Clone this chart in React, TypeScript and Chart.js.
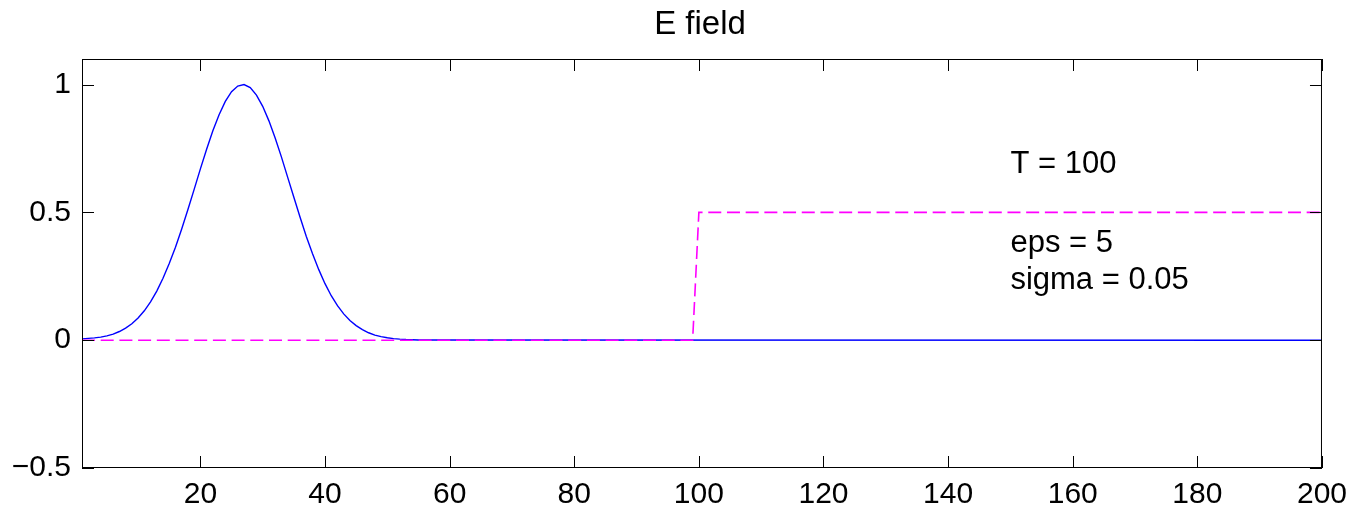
import React, { useEffect, useRef } from "react";
import { Chart, registerables } from "chart.js";

Chart.register(...registerables);

// ---- data ----
const titleText = "E field";
const xTicks = [20, 40, 60, 80, 100, 120, 140, 160, 180, 200];
const yTicks = [-0.5, 0, 0.5, 1];
const xMin = 1;
const xMax = 200;
const yMin = -0.5;
const yMax = 1.1;

const pulseX = [
  1, 2, 3, 4, 5, 6, 7, 8, 9, 10, 11, 12, 13, 14, 15, 16, 17, 18, 19, 20,
  21, 22, 23, 24, 25, 26, 27, 28, 29, 30, 31, 32, 33, 34, 35, 36, 37, 38, 39, 40,
  41, 42, 43, 44, 45, 46, 47, 48, 49, 50, 51, 52, 53, 54, 55, 56, 200,
];
const pulseY = [
  0.005, 0.007, 0.009, 0.012, 0.017, 0.024, 0.034, 0.047, 0.064, 0.087,
  0.115, 0.15, 0.192, 0.242, 0.3, 0.364, 0.435, 0.511, 0.59, 0.67,
  0.747, 0.819, 0.882, 0.934, 0.972, 0.994, 1.0, 0.988, 0.959, 0.915,
  0.858, 0.791, 0.717, 0.638, 0.559, 0.481, 0.406, 0.338, 0.276, 0.221,
  0.174, 0.135, 0.103, 0.077, 0.057, 0.041, 0.029, 0.02, 0.014, 0.0095,
  0.0063, 0.0041, 0.0026, 0.0017, 0.001, 0.0006, 0,
];

const stepX = [1, 99, 100, 200];
const stepY = [0, 0, 0.5, 0.5];

const noteTexts = ["T = 100", "eps = 5", "sigma = 0.05"];
const noteX = [150, 150, 150];
const noteY = [0.697, 0.387, 0.244];

const FONT = "'Liberation Sans', Arial, Helvetica, sans-serif";

export default function App() {
  const ref = useRef<HTMLCanvasElement | null>(null);

  useEffect(() => {
    document.body.style.margin = "0";
    const canvas = ref.current;
    if (!canvas) return;

    const framePlugin = {
      id: "matlabFrame",
      afterDraw(chart: any) {
        const ctx = chart.ctx;
        const ca = chart.chartArea;
        const xs = chart.scales.x;
        const ys = chart.scales.y;
        ctx.save();
        ctx.strokeStyle = "#000";
        ctx.lineWidth = 1;
        ctx.strokeRect(ca.left + 0.5, ca.top + 0.5, ca.right - ca.left - 1, ca.bottom - ca.top - 1);
        const tl = 12;
        ctx.beginPath();
        xTicks.forEach((v) => {
          const px = Math.round(xs.getPixelForValue(v)) + 0.5;
          ctx.moveTo(px, ca.bottom);
          ctx.lineTo(px, ca.bottom - tl);
          ctx.moveTo(px, ca.top);
          ctx.lineTo(px, ca.top + tl);
        });
        yTicks.forEach((v) => {
          const py = Math.round(ys.getPixelForValue(v)) + 0.5;
          ctx.moveTo(ca.left, py);
          ctx.lineTo(ca.left + tl, py);
          ctx.moveTo(ca.right, py);
          ctx.lineTo(ca.right - tl, py);
        });
        ctx.stroke();

        // title
        ctx.fillStyle = "#000";
        ctx.font = `33px ${FONT}`;
        ctx.textAlign = "center";
        ctx.textBaseline = "alphabetic";
        ctx.fillText(titleText, (ca.left + ca.right) / 2 - 2, 34);

        // annotations
        ctx.textAlign = "left";
        noteTexts.forEach((t, i) => {
          const size = 31;
          ctx.font = `${size}px ${FONT}`;
          const px = xs.getPixelForValue(noteX[i]);
          const py = ys.getPixelForValue(noteY[i]) + 0.36 * size;
          ctx.fillText(t, px, py);
        });
        ctx.restore();
      },
    };

    const chart = new Chart(canvas, {
      type: "line",
      data: {
        datasets: [
          {
            label: "step",
            data: stepX.map((x, i) => ({ x, y: stepY[i] })),
            borderColor: "#ff00ff",
            borderWidth: 1.6,
            borderDash: [13, 5.7],
            pointRadius: 0,
            tension: 0,
            fill: false,
            order: 0,
          },
          {
            label: "E",
            data: pulseX.map((x, i) => ({ x, y: pulseY[i] })),
            borderColor: "#0000ff",
            borderWidth: 1.4,
            pointRadius: 0,
            tension: 0,
            fill: false,
            order: 1,
          },
        ],
      },
      options: {
        animation: false,
        responsive: false,
        maintainAspectRatio: false,
        layout: { padding: { top: 59, right: 32, left: 0, bottom: 0 } },
        plugins: {
          legend: { display: false },
          title: { display: false },
          tooltip: { enabled: false },
        },
        scales: {
          x: {
            type: "linear",
            min: xMin,
            max: xMax,
            grid: { display: false, drawTicks: false },
            border: { display: false },
            afterBuildTicks: (scale: any) => {
              scale.ticks = xTicks.map((v) => ({ value: v }));
            },
            afterFit: (scale: any) => {
              scale.height = 47;
            },
            ticks: {
              color: "#000",
              font: { family: FONT, size: 30 },
              padding: 9,
              maxRotation: 0,
              autoSkip: false,
              callback: (v: any) => String(v),
            },
          },
          y: {
            type: "linear",
            min: yMin,
            max: yMax,
            grid: { display: false, drawTicks: false },
            border: { display: false },
            afterBuildTicks: (scale: any) => {
              scale.ticks = yTicks.map((v) => ({ value: v }));
            },
            afterFit: (scale: any) => {
              scale.width = 82;
            },
            ticks: {
              color: "#000",
              font: { family: FONT, size: 30 },
              padding: 11,
              autoSkip: false,
              callback: (v: any) => (v < 0 ? "\u2212" + String(Math.abs(v)) : String(v)),
            },
          },
        },
      },
      plugins: [framePlugin],
    });

    return () => chart.destroy();
  }, []);

  return <canvas ref={ref} width={1356} height={515} style={{ display: "block" }} />;
}
